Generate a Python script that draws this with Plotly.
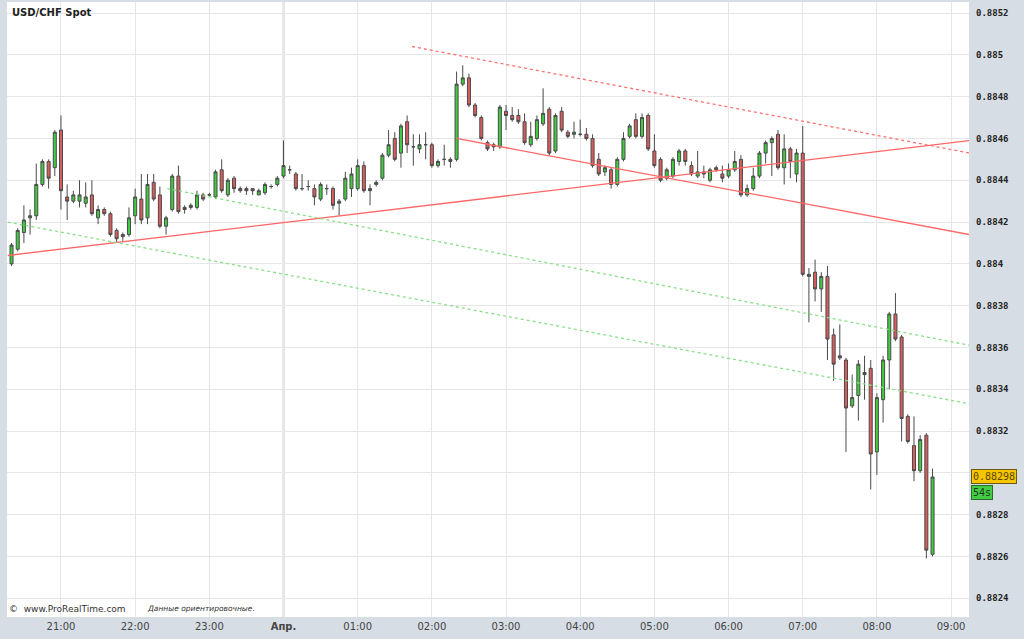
import pandas as pd
import plotly.graph_objects as go

# ---- data (5-minute candles, USD/CHF) ----
start_time = "2014-03-31 20:20"
n_candles = 150
times = pd.date_range(start_time, periods=n_candles, freq="5min")

opens = [
    0.88400, 0.88407, 0.88415, 0.88422, 0.88423, 0.88438, 0.88449, 0.88446, 0.88464, 0.88432,
    0.88430, 0.88430, 0.88429, 0.88433, 0.88422, 0.88426, 0.88424, 0.88416, 0.88414, 0.88414,
    0.88423, 0.88431, 0.88422, 0.88439, 0.88433, 0.88418, 0.88426, 0.88442, 0.88427, 0.88427,
    0.88427, 0.88433, 0.88433, 0.88432, 0.88445, 0.88433, 0.88441, 0.88436, 0.88436, 0.88436,
    0.88433, 0.88434, 0.88437, 0.88438, 0.88442, 0.88445, 0.88443, 0.88436, 0.88437, 0.88436,
    0.88431, 0.88436, 0.88436, 0.88429, 0.88431, 0.88436, 0.88436, 0.88447, 0.88436, 0.88438,
    0.88441, 0.88452, 0.88460, 0.88453, 0.88468, 0.88456, 0.88455, 0.88457, 0.88457, 0.88447,
    0.88450, 0.88450, 0.88450, 0.88486, 0.88489, 0.88476, 0.88470, 0.88458, 0.88457, 0.88456,
    0.88473, 0.88471, 0.88471, 0.88468, 0.88457, 0.88460, 0.88467, 0.88474, 0.88454, 0.88473,
    0.88463, 0.88462, 0.88462, 0.88462, 0.88460, 0.88450, 0.88444, 0.88445, 0.88438, 0.88450,
    0.88461, 0.88469, 0.88461, 0.88471, 0.88454, 0.88450, 0.88441, 0.88442, 0.88449, 0.88454,
    0.88447, 0.88442, 0.88444, 0.88440, 0.88446, 0.88443, 0.88442, 0.88445, 0.88450, 0.88433,
    0.88436, 0.88442, 0.88453, 0.88458, 0.88462, 0.88446, 0.88455, 0.88443, 0.88453, 0.88394,
    0.88396, 0.88388, 0.88394, 0.88366, 0.88356, 0.88354, 0.88332, 0.88337, 0.88347, 0.88350,
    0.88310, 0.88335, 0.88354, 0.88376, 0.88365, 0.88327, 0.88313, 0.88301, 0.88318, 0.88261,
]
highs = [
    0.88410, 0.88417, 0.88428, 0.88426, 0.88448, 0.88450, 0.88450, 0.88464, 0.88471, 0.88438,
    0.88435, 0.88440, 0.88439, 0.88440, 0.88428, 0.88427, 0.88425, 0.88417, 0.88415, 0.88427,
    0.88436, 0.88443, 0.88443, 0.88443, 0.88437, 0.88423, 0.88443, 0.88447, 0.88428, 0.88429,
    0.88435, 0.88434, 0.88434, 0.88445, 0.88450, 0.88441, 0.88442, 0.88437, 0.88437, 0.88436,
    0.88436, 0.88439, 0.88438, 0.88442, 0.88459, 0.88447, 0.88444, 0.88443, 0.88440, 0.88438,
    0.88439, 0.88438, 0.88437, 0.88431, 0.88444, 0.88446, 0.88450, 0.88449, 0.88438, 0.88440,
    0.88453, 0.88464, 0.88463, 0.88467, 0.88471, 0.88462, 0.88462, 0.88463, 0.88458, 0.88450,
    0.88457, 0.88451, 0.88492, 0.88495, 0.88491, 0.88477, 0.88471, 0.88459, 0.88458, 0.88476,
    0.88476, 0.88475, 0.88474, 0.88472, 0.88468, 0.88471, 0.88484, 0.88475, 0.88472, 0.88475,
    0.88464, 0.88468, 0.88469, 0.88465, 0.88462, 0.88453, 0.88447, 0.88446, 0.88451, 0.88463,
    0.88467, 0.88472, 0.88472, 0.88472, 0.88462, 0.88451, 0.88446, 0.88451, 0.88455, 0.88455,
    0.88449, 0.88454, 0.88447, 0.88446, 0.88447, 0.88447, 0.88448, 0.88454, 0.88452, 0.88438,
    0.88446, 0.88454, 0.88459, 0.88461, 0.88464, 0.88462, 0.88456, 0.88455, 0.88466, 0.88398,
    0.88402, 0.88396, 0.88399, 0.88369, 0.88371, 0.88355, 0.88347, 0.88354, 0.88356, 0.88354,
    0.88338, 0.88356, 0.88377, 0.88386, 0.88366, 0.88328, 0.88327, 0.88318, 0.88319, 0.88302,
]
lows = [
    0.88399, 0.88406, 0.88410, 0.88414, 0.88421, 0.88437, 0.88436, 0.88442, 0.88426, 0.88421,
    0.88429, 0.88427, 0.88427, 0.88423, 0.88419, 0.88423, 0.88413, 0.88410, 0.88411, 0.88413,
    0.88419, 0.88419, 0.88419, 0.88430, 0.88417, 0.88414, 0.88425, 0.88424, 0.88424, 0.88426,
    0.88426, 0.88430, 0.88432, 0.88431, 0.88434, 0.88432, 0.88434, 0.88434, 0.88433, 0.88433,
    0.88433, 0.88433, 0.88436, 0.88437, 0.88441, 0.88443, 0.88435, 0.88435, 0.88435, 0.88428,
    0.88430, 0.88433, 0.88426, 0.88423, 0.88430, 0.88432, 0.88435, 0.88434, 0.88428, 0.88437,
    0.88440, 0.88451, 0.88449, 0.88446, 0.88453, 0.88447, 0.88453, 0.88450, 0.88446, 0.88446,
    0.88447, 0.88446, 0.88449, 0.88485, 0.88475, 0.88470, 0.88459, 0.88454, 0.88454, 0.88455,
    0.88464, 0.88468, 0.88467, 0.88457, 0.88456, 0.88459, 0.88466, 0.88452, 0.88453, 0.88463,
    0.88460, 0.88460, 0.88461, 0.88459, 0.88446, 0.88442, 0.88442, 0.88436, 0.88437, 0.88449,
    0.88460, 0.88460, 0.88460, 0.88454, 0.88446, 0.88439, 0.88440, 0.88441, 0.88447, 0.88447,
    0.88442, 0.88441, 0.88441, 0.88439, 0.88444, 0.88439, 0.88441, 0.88444, 0.88432, 0.88432,
    0.88435, 0.88441, 0.88448, 0.88442, 0.88445, 0.88438, 0.88441, 0.88439, 0.88394, 0.88372,
    0.88382, 0.88377, 0.88354, 0.88344, 0.88354, 0.88310, 0.88331, 0.88325, 0.88335, 0.88292,
    0.88299, 0.88324, 0.88340, 0.88363, 0.88315, 0.88314, 0.88296, 0.88300, 0.88259, 0.88260,
]
closes = [
    0.88409, 0.88416, 0.88421, 0.88423, 0.88438, 0.88449, 0.88441, 0.88463, 0.88435, 0.88430,
    0.88433, 0.88433, 0.88432, 0.88424, 0.88426, 0.88424, 0.88414, 0.88412, 0.88413, 0.88422,
    0.88432, 0.88421, 0.88438, 0.88431, 0.88418, 0.88422, 0.88442, 0.88425, 0.88426, 0.88428,
    0.88433, 0.88431, 0.88433, 0.88444, 0.88435, 0.88440, 0.88436, 0.88435, 0.88435, 0.88435,
    0.88435, 0.88438, 0.88437, 0.88441, 0.88447, 0.88445, 0.88436, 0.88436, 0.88437, 0.88432,
    0.88438, 0.88436, 0.88428, 0.88430, 0.88441, 0.88443, 0.88447, 0.88435, 0.88435, 0.88439,
    0.88452, 0.88457, 0.88450, 0.88466, 0.88457, 0.88456, 0.88457, 0.88457, 0.88447, 0.88449,
    0.88450, 0.88449, 0.88486, 0.88489, 0.88476, 0.88471, 0.88460, 0.88455, 0.88456, 0.88475,
    0.88471, 0.88469, 0.88468, 0.88458, 0.88461, 0.88469, 0.88472, 0.88453, 0.88471, 0.88464,
    0.88461, 0.88463, 0.88462, 0.88460, 0.88447, 0.88443, 0.88446, 0.88438, 0.88450, 0.88460,
    0.88466, 0.88461, 0.88470, 0.88455, 0.88447, 0.88440, 0.88445, 0.88450, 0.88454, 0.88449,
    0.88443, 0.88444, 0.88443, 0.88445, 0.88445, 0.88441, 0.88445, 0.88449, 0.88433, 0.88436,
    0.88442, 0.88453, 0.88458, 0.88460, 0.88446, 0.88455, 0.88449, 0.88453, 0.88395, 0.88395,
    0.88388, 0.88394, 0.88364, 0.88352, 0.88355, 0.88331, 0.88336, 0.88352, 0.88348, 0.88309,
    0.88336, 0.88354, 0.88376, 0.88364, 0.88326, 0.88315, 0.88301, 0.88316, 0.88263, 0.88298,
]

# trend lines: (start time, start price, end time, end price)
red_solid_up = ["2014-03-31 20:17", 0.88404, "2014-04-01 09:15", 0.88459]
red_solid_down = ["2014-04-01 02:20", 0.88460, "2014-04-01 09:15", 0.88414]
red_dotted = ["2014-04-01 01:44", 0.88504, "2014-04-01 09:15", 0.88453]
green_dotted_up = ["2014-03-31 22:26", 0.88436, "2014-04-01 09:15", 0.88361]
green_dotted_low = ["2014-03-31 20:17", 0.88420, "2014-04-01 09:15", 0.88333]

# axis ticks
x_tick_vals = ["2014-03-31 21:00", "2014-03-31 22:00", "2014-03-31 23:00", "2014-04-01 00:00",
               "2014-04-01 01:00", "2014-04-01 02:00", "2014-04-01 03:00", "2014-04-01 04:00",
               "2014-04-01 05:00", "2014-04-01 06:00", "2014-04-01 07:00", "2014-04-01 08:00",
               "2014-04-01 09:00"]
x_tick_text = ["21:00", "22:00", "23:00", "<b>Апр.</b>", "01:00", "02:00", "03:00", "04:00",
               "05:00", "06:00", "07:00", "08:00", "09:00"]
y_tick_vals = [0.8824, 0.8826, 0.8828, 0.8830, 0.8832, 0.8834, 0.8836, 0.8838,
               0.8840, 0.8842, 0.8844, 0.8846, 0.8848, 0.8850, 0.8852]
# the 0.883 label is hidden behind the last-price box in the reference
y_tick_text = ["0.8824", "0.8826", "0.8828", "", "0.8832", "0.8834", "0.8836", "0.8838",
               "0.884", "0.8842", "0.8844", "0.8846", "0.8848", "0.885", "0.8852"]
last_price_text = "0.88298"
timer_text = "54s"
title_text = "USD/CHF Spot"

GREEN = "#3fcc3f"
RED = "#d95b5b"
OUTLINE = "#4a4a4a"

fig = go.Figure()
fig.add_trace(go.Candlestick(
    x=times, open=opens, high=highs, low=lows, close=closes,
    increasing=dict(fillcolor=GREEN, line=dict(color=OUTLINE, width=1)),
    decreasing=dict(fillcolor=RED, line=dict(color=OUTLINE, width=1)),
    whiskerwidth=0, showlegend=False, hoverinfo="skip",
))

def add_line(seg, color, dash):
    fig.add_trace(go.Scatter(
        x=[seg[0], seg[2]], y=[seg[1], seg[3]], mode="lines",
        line=dict(color=color, width=1.3, dash=dash),
        showlegend=False, hoverinfo="skip",
    ))

add_line(red_solid_up, "#ff6666", "solid")
add_line(red_solid_down, "#ff6666", "solid")
add_line(red_dotted, "#ff7070", "dot")
add_line(green_dotted_up, "#88e088", "dot")
add_line(green_dotted_low, "#88e088", "dot")

# day separator
fig.add_shape(type="line", xref="x", yref="paper", x0="2014-04-01 00:00", x1="2014-04-01 00:00",
              y0=0, y1=1, line=dict(color="#a3a3a3", width=1.5), layer="below")

fig.update_layout(
    width=1024, height=639,
    margin=dict(l=7, r=55, t=2, b=22),
    paper_bgcolor="#d7dde4",
    plot_bgcolor="#ffffff",
    showlegend=False,
    xaxis=dict(
        type="date",
        range=["2014-03-31 20:16:20", "2014-04-01 09:14:30"],
        rangeslider=dict(visible=False),
        tickmode="array", tickvals=x_tick_vals, ticktext=x_tick_text,
        showgrid=True, gridcolor="#e6e6e6", gridwidth=1,
        zeroline=False, showline=False, ticks="",
        tickfont=dict(family="DejaVu Sans", size=10, color="#444444"),
        ticklabelstandoff=2,
    ),
    yaxis=dict(
        side="right",
        range=[0.88231, 0.885253],
        tickmode="array", tickvals=y_tick_vals, ticktext=y_tick_text,
        showgrid=True, gridcolor="#e6e6e6", gridwidth=1,
        zeroline=False, showline=False, ticks="",
        tickfont=dict(family="DejaVu Sans Mono", size=9, color="#222222", weight="bold"),
        ticklabelstandoff=6,
    ),
)

fig.add_annotation(xref="paper", yref="paper", x=0, y=1, xanchor="left", yanchor="top",
                   xshift=3, yshift=-3, showarrow=False,
                   text="<b>" + title_text + "</b>",
                   font=dict(family="DejaVu Sans", size=10, color="#222222"))

fig.add_annotation(xref="paper", yref="paper", x=0, y=0, xanchor="left", yanchor="bottom",
                   xshift=0, yshift=1, showarrow=False,
                   text="©  www.ProRealTime.com",
                   font=dict(family="DejaVu Sans", size=9, color="#333333"))
fig.add_annotation(xref="paper", yref="paper", x=0, y=0, xanchor="left", yanchor="bottom",
                   xshift=138, yshift=2, showarrow=False,
                   text="<i>Данные ориентировочные.</i>",
                   font=dict(family="DejaVu Sans", size=7.5, color="#333333"))

fig.add_annotation(xref="paper", yref="y", x=1, y=closes[-1], xanchor="left", yanchor="middle",
                   xshift=2, showarrow=False, text=last_price_text,
                   bgcolor="#f6c500", bordercolor="#6b5a10", borderwidth=1, borderpad=1,
                   font=dict(family="DejaVu Sans Mono", size=10, color="#5a4a00"))
fig.add_annotation(xref="paper", yref="y", x=1, y=closes[-1], xanchor="left", yanchor="top",
                   xshift=2, yshift=-8, showarrow=False, text=timer_text,
                   bgcolor="#44cc44", bordercolor="#2d6b2d", borderwidth=1, borderpad=1,
                   font=dict(family="DejaVu Sans Mono", size=10, color="#1a3a1a"))

# remove the default 8px page margin so the figure fills the window exactly
fig.write_html("out.html",
               config={"displayModeBar": False},
               post_script="document.body.style.margin='0px';document.body.style.overflow='hidden';")
